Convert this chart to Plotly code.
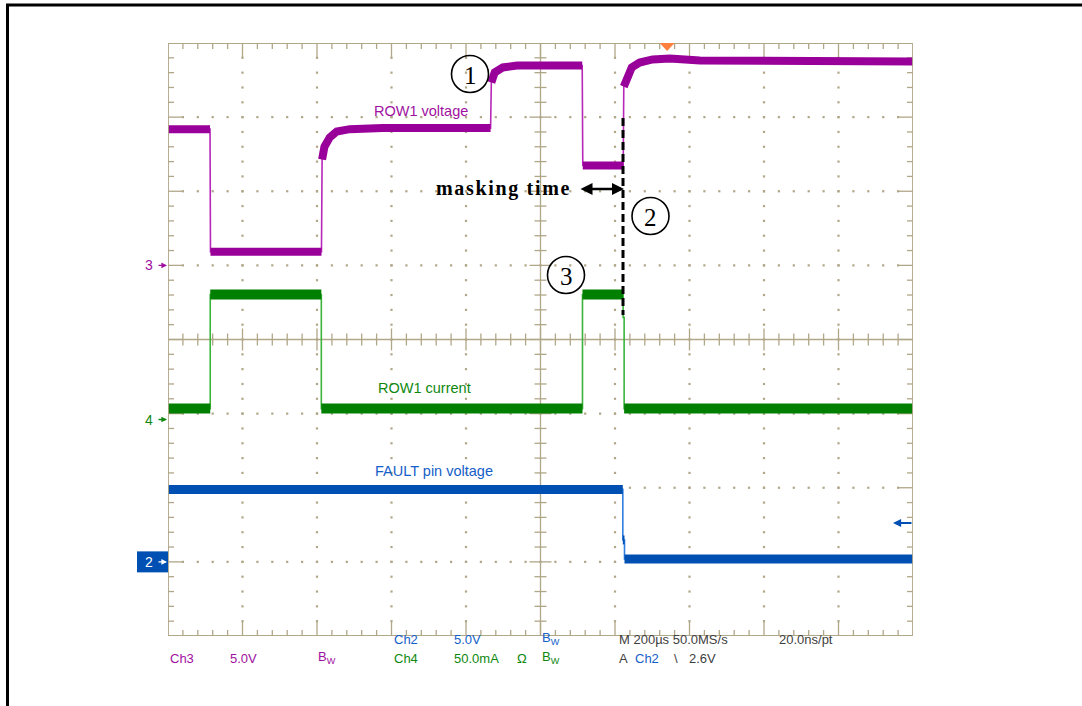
import numpy as np
import plotly.graph_objects as go

# ---------------- data (read from the scope capture) ----------------
# time in microseconds from the left edge of the screen (200 us/div)
row1_voltage_t = [0, 112.8, 114.0, 412.0, 413.7, 420, 434, 453, 488, 576, 866, 868, 877, 899, 937,
                  1112, 1113.5, 1222, 1223.6, 1232, 1245, 1266, 1301, 1347, 1428, 2000]
row1_voltage_v = [9.19, 9.19, 0.92, 0.92, 7.14, 8.01, 8.62, 9.03, 9.19, 9.26, 9.26, 12.33, 13.01, 13.35, 13.48,
                  13.48, 6.74, 6.74, 12.06, 12.74, 13.35, 13.68, 13.89, 13.95, 13.82, 13.75]

row1_current_t = [0, 113.4, 113.4, 411.6, 411.6, 1112.7, 1112.7, 1221.8, 1221.8, 1224.5, 1224.5, 2000]
row1_current_ma = [7.4, 7.4, 84.4, 84.4, 7.4, 7.4, 84.4, 84.4, 68.9, 68.9, 7.4, 7.4]

fault_t = [0, 1221.0, 1221.0, 1225.5, 1225.5, 2000]
fault_v = [4.89, 4.89, 1.48, 1.48, 0.2, 0.2]

# channel settings: units/div and ground position (divisions from centre)
CH3_SCALE, CH3_OFFSET = 5.0, 1.0      # ROW1 voltage, 5.0 V/div
CH4_SCALE, CH4_OFFSET = 50.0, -1.08   # ROW1 current, 50.0 mA/div
CH2_SCALE, CH2_OFFSET = 5.0, -3.0     # FAULT pin, 5.0 V/div
TIME_PER_DIV = 200.0
TRIGGER_T = 1340.0
FAULT_T = 1221.5

channel_labels = ["ROW1 voltage", "ROW1 current", "FAULT pin voltage"]
footer_row1 = [("Ch2", "#1560c8"), ("5.0V", "#1560c8"), ("B<sub>W</sub>", "#1560c8"),
               ("M 200\u00b5s 50.0MS/s", "#404040"), ("20.0ns/pt", "#404040")]
footer_row2 = [("Ch3", "#a010a0"), ("5.0V", "#a010a0"), ("B<sub>W</sub>", "#a010a0"),
               ("Ch4", "#108810"), ("50.0mA", "#108810"), ("\u03a9", "#108810"), ("B<sub>W</sub>", "#108810"),
               ("A", "#404040"), ("Ch2", "#1560c8"), ("\\", "#404040"), ("2.6V", "#404040")]

# ---------------- layout geometry ----------------
W, H = 1082, 706
ML, MR, MT, MB = 168, 169, 43, 70
PW = W - ML - MR
PH = H - MT - MB
XMAX = 10 * TIME_PER_DIV
XR = XMAX / PW        # data units per px (x)
YR = 8.0 / PH         # divisions per px (y)


def dx(px):
    return (px - ML) * XR


def dy(py):
    return 4.0 - (py - MT) * YR


def xp(px):
    return (px - ML) / PW


def yp(py):
    return (H - MB - py) / PH


GC = "#b0a688"
PURPLE, PURPLE_T = "#990099", "#b828b8"
GREEN, GREEN_T = "#007f00", "#3cb43c"
BLUE, BLUE_T = "#0050b4", "#2f7fe0"

fig = go.Figure()

# ---------------- graticule ----------------
gx, gy = [], []
for k in range(1, 10):
    if k == 5:
        continue
    x = k * TIME_PER_DIV
    for j in range(1, 40):
        gx.append(x)
        gy.append(-4 + 0.2 * j)
for k in (-3, -2, -1, 1, 2, 3):
    for j in range(1, 50):
        gx.append(j * TIME_PER_DIV / 5)
        gy.append(k)
fig.add_trace(go.Scatter(x=gx, y=gy, mode="markers", hoverinfo="skip",
                         marker=dict(symbol="square", size=2.2, color=GC, line=dict(width=0))))

tx, ty = [], []
for i in range(1, 50):
    x = i * TIME_PER_DIV / 5
    L = 14 if i % 5 == 0 else 6
    tx += [x, x, None, x, x, None]
    ty += [4, 4 - L * YR, None, -4, -4 + L * YR, None]
    c = 11 if i % 5 == 0 else 6
    tx += [x, x, None]
    ty += [c * YR, -c * YR, None]
for j in range(1, 40):
    y = -4 + 0.2 * j
    L = 14 if j % 5 == 0 else 6
    tx += [0, L * XR, None, XMAX, XMAX - L * XR, None]
    ty += [y, y, None, y, y, None]
    c = 11 if j % 5 == 0 else 6
    tx += [XMAX / 2 - c * XR, XMAX / 2 + c * XR, None]
    ty += [y, y, None]
tx += [0, XMAX, None, XMAX / 2, XMAX / 2, None]
ty += [0, 0, None, -4, 4, None]
fig.add_trace(go.Scatter(x=tx, y=ty, mode="lines", hoverinfo="skip",
                         line=dict(color=GC, width=1.3)))


# ---------------- waveforms ----------------
def to_div(vals, scale, offset):
    return [v / scale + offset for v in vals]


def band(t, y):
    bx, by = [t[0]], [y[0]]
    for i in range(1, len(t)):
        if t[i] - t[i - 1] <= 3.0:
            bx.append(None)
            by.append(None)
        bx.append(t[i])
        by.append(y[i])
    return bx, by


chans = [
    (row1_voltage_t, to_div(row1_voltage_v, CH3_SCALE, CH3_OFFSET), PURPLE, PURPLE_T, 8),
    (row1_current_t, to_div(row1_current_ma, CH4_SCALE, CH4_OFFSET), GREEN, GREEN_T, 10),
    (fault_t, to_div(fault_v, CH2_SCALE, CH2_OFFSET), BLUE, BLUE_T, 9),
]
for t, y, c, ct, w in chans:
    fig.add_trace(go.Scatter(x=t, y=y, mode="lines", hoverinfo="skip",
                             line=dict(color=ct, width=1.6)))
    bx, by = band(t, y)
    fig.add_trace(go.Scatter(x=bx, y=by, mode="lines", hoverinfo="skip", connectgaps=False,
                             line=dict(color=c, width=w)))

shapes = []
annots = []

shapes.append(dict(type="rect", xref="x", yref="y", x0=0, x1=XMAX, y0=-4, y1=4,
                   line=dict(color=GC, width=1.8), layer="above"))

# outer frame of the figure
shapes.append(dict(type="line", xref="paper", yref="paper", x0=xp(6), x1=xp(W + 5), y0=yp(5), y1=yp(5),
                   line=dict(color="black", width=3)))
shapes.append(dict(type="line", xref="paper", yref="paper", x0=xp(7.5), x1=xp(7.5), y0=yp(5), y1=yp(H + 5),
                   line=dict(color="black", width=3)))

# trigger marker
shapes.append(dict(type="path", xref="x", yref="y",
                   path=f"M {TRIGGER_T - 7.5 * XR},{4} L {TRIGGER_T + 7.5 * XR},{4} L {TRIGGER_T},{4 - 8 * YR} Z",
                   fillcolor="#ff7f3f", line=dict(width=0)))

# dashed masking line
shapes.append(dict(type="line", xref="x", yref="y", x0=FAULT_T, x1=FAULT_T, y0=dy(118), y1=dy(315),
                   line=dict(color="black", width=3, dash="8px,4px")))

# numbered circles
for num, cx, cy in (("1", 470, 74), ("2", 650.5, 216), ("3", 566, 275)):
    r = 18.5
    shapes.append(dict(type="circle", xref="x", yref="y", x0=dx(cx - r), x1=dx(cx + r),
                       y0=dy(cy + r), y1=dy(cy - r), line=dict(color="black", width=1.6)))
    annots.append(dict(x=dx(cx), y=dy(cy + 1), xref="x", yref="y", text=num, showarrow=False,
                       font=dict(family="Liberation Serif", size=25, color="black")))

# masking time arrow + text
annots.append(dict(x=dx(624), y=dy(189), ax=dx(579), ay=dy(189), xref="x", yref="y", axref="x", ayref="y",
                   text="", showarrow=True, arrowside="end+start", arrowhead=2, arrowsize=1.0,
                   arrowwidth=2.4, arrowcolor="black", standoff=0, startstandoff=0))
hs = "\u200a"
annots.append(dict(x=dx(571), y=dy(188), xref="x", yref="y", xanchor="right",
                   text=hs.join("masking time"),
                   showarrow=False, font=dict(family="Liberation Serif", size=20, color="black", weight="bold")))

# channel labels
for txt, cx, cy, col in ((channel_labels[0], 421, 111, "#a010a0"),
                         (channel_labels[1], 424, 388, "#108810"),
                         (channel_labels[2], 434, 471, "#1560c8")):
    annots.append(dict(x=dx(cx), y=dy(cy), xref="x", yref="y", text=txt, showarrow=False,
                       font=dict(family="Liberation Sans", size=14.5, color=col)))

# ground markers
gnd_y3 = 339.5 - CH3_OFFSET / YR
gnd_y4 = 339.5 - CH4_OFFSET / YR
gnd_y2 = 339.5 - CH2_OFFSET / YR
shapes.append(dict(type="rect", xref="paper", yref="paper", x0=xp(137), x1=xp(168), y0=yp(gnd_y2 + 10.5),
                   y1=yp(gnd_y2 - 10.5), fillcolor=BLUE, line=dict(width=0)))
for lab, gy_, col in (("3", gnd_y3, "#a010a0"), ("4", gnd_y4, "#108810"), ("2", gnd_y2, "white")):
    annots.append(dict(x=xp(155), y=yp(gy_), xref="paper", yref="paper", xanchor="right", yanchor="middle",
                       text=lab, showarrow=False, font=dict(family="Liberation Sans", size=14, color=col)))
    annots.append(dict(x=xp(167), y=yp(gy_), ax=-10, ay=0, xref="paper", yref="paper", text="",
                       showarrow=True, arrowhead=2, arrowsize=0.8, arrowwidth=1.4, arrowcolor=col,
                       standoff=0))
annots.append(dict(x=xp(893), y=yp(523), ax=20, ay=0, xref="paper", yref="paper", text="",
                   showarrow=True, arrowhead=2, arrowsize=0.9, arrowwidth=1.8, arrowcolor=BLUE, standoff=0))

# footer
row1_x = [392, 452, 540, 617, 777]
row2_x = [168, 228, 316, 392, 452, 515, 540, 617, 633, 672, 687]
for (txt, col), x in zip(footer_row1, row1_x):
    annots.append(dict(x=xp(x), y=yp(649), xref="paper", yref="paper", xanchor="left", text=txt,
                       showarrow=False, font=dict(family="Liberation Sans", size=13, color=col)))
for (txt, col), x in zip(footer_row2, row2_x):
    annots.append(dict(x=xp(x), y=yp(668), xref="paper", yref="paper", xanchor="left", text=txt,
                       showarrow=False, font=dict(family="Liberation Sans", size=13, color=col)))

fig.update_layout(
    width=W, height=H,
    margin=dict(l=ML, r=MR, t=MT, b=MB, pad=0, autoexpand=False),
    paper_bgcolor="white", plot_bgcolor="white",
    showlegend=False,
    xaxis=dict(range=[0, XMAX], visible=False, fixedrange=True),
    yaxis=dict(range=[-4, 4], visible=False, fixedrange=True),
    shapes=shapes, annotations=annots,
)

fig.write_html("out.html", config={"displayModeBar": False},
               post_script="document.body.style.margin='0';document.body.style.overflow='hidden';")
